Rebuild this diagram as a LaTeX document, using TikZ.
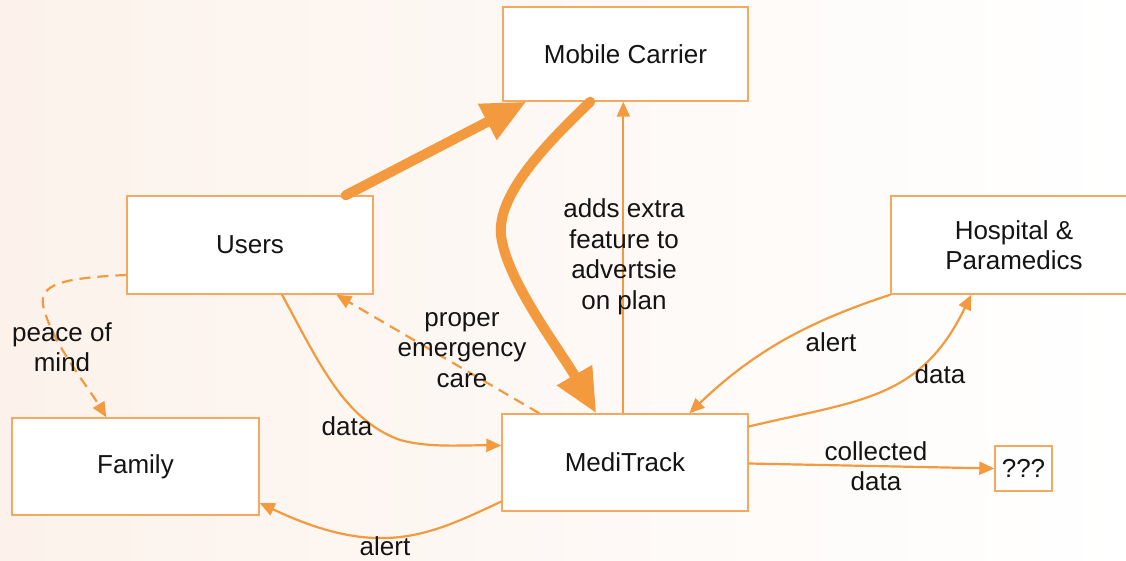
\documentclass[tikz,border=0pt]{standalone}
\usepackage{fontspec}
\setmainfont{Liberation Sans}
\usetikzlibrary{arrows.meta}
\definecolor{flow}{RGB}{243,154,62}
\definecolor{boxline}{RGB}{245,168,96}
\definecolor{peach}{RGB}{252,242,235}
\definecolor{ink}{RGB}{20,20,20}
\begin{document}
\begin{tikzpicture}[x=1pt,y=-1pt,
  txt/.style={font=\fontsize{26}{30.5}\selectfont, text=ink},
  box/.style={txt, draw=boxline, line width=1.4pt, fill=white, align=center, inner sep=0pt},
  lbl/.style={txt, align=center, inner sep=0pt},
  thin/.style={draw=flow, line width=2.2pt, -{Triangle[length=15pt,width=13pt]}},
  thick/.style={draw=flow, line width=10pt, line cap=round, -{Triangle[length=44pt,width=38pt]}},
  dashline/.style={thin, dash pattern=on 11pt off 7pt}]
\useasboundingbox (0,0) rectangle (1126,561);
\shade[left color=peach, right color=white] (0,0) rectangle (1126,561);

% entities
\node[box, minimum width=245pt, minimum height=94pt] (carrier) at (625.5,54) {Mobile Carrier};
\node[box, minimum width=246pt, minimum height=98pt] (users) at (250,245) {Users};
\node[box, minimum width=246pt, minimum height=98pt] (hosp) at (1014,245) {Hospital \&\\Paramedics};
\node[box, minimum width=247pt, minimum height=97pt] (family) at (135.5,466.5) {Family};
\node[box, minimum width=246pt, minimum height=97pt] (medi) at (625,462.5) {MediTrack};
\node[box, minimum width=57pt, minimum height=45pt] (unknown) at (1023.5,468.5) {???};

% subscription flows with the carrier
\draw[thick] ([xshift=-28pt]users.north east) -- ([xshift=24pt]carrier.south west);
\draw[thick] ([xshift=88pt]carrier.south west)
  .. controls (545,145) and (497,195) .. (501,235)
  .. controls (506,280) and (560,350) .. ([xshift=95pt]medi.north west);
\draw[thin] ([xshift=122pt]medi.north west) -- ([xshift=121pt]carrier.south west);

% flows around MediTrack
\draw[thin] ([xshift=32pt]users.south)
  .. controls (320,365) and (345,420) .. (400,440)
  .. controls (430,448) and (460,445) .. ([yshift=17pt]medi.west);
\draw[dashline] ([xshift=38pt]medi.north west) -- ([xshift=210pt]users.south west);
\draw[dashline] ([yshift=-30pt]users.west)
  .. controls (60,278) and (40,285) .. (43,305)
  .. controls (50,340) and (90,390) .. ([xshift=95pt]family.north west);
\draw[thin] ([yshift=-39pt]medi.west)
  .. controls (430,535) and (380,560) .. ([yshift=-36.5pt]family.east);
\draw[thin] (hosp.south west)
  .. controls (820,318) and (760,345) .. ([xshift=188pt]medi.north west);
\draw[thin] ([yshift=36pt]medi.east)
  .. controls (860,400) and (920,400) .. ([xshift=81pt]hosp.south west);
\draw[thin] ([yshift=-1pt]medi.east) -- (unknown.west);

% labels
\node[lbl] (lbladds) at (624,257) {adds extra\\feature to\\advertsie\\on plan};
\node[lbl] (lblcare) at (462,350) {proper\\emergency\\care};
\node[lbl] (lblpeace) at (62,347) {peace of\\mind};
\node[lbl] (lbldata) at (347,426) {data};
\node[lbl] (lblalertf) at (385,546) {alert};
\node[lbl] (lblalerth) at (831,342) {alert};
\node[lbl] (lbldatah) at (940,374) {data};
\node[lbl] (lblcollect) at (876,466) {collected\\data};
\end{tikzpicture}
\end{document}
